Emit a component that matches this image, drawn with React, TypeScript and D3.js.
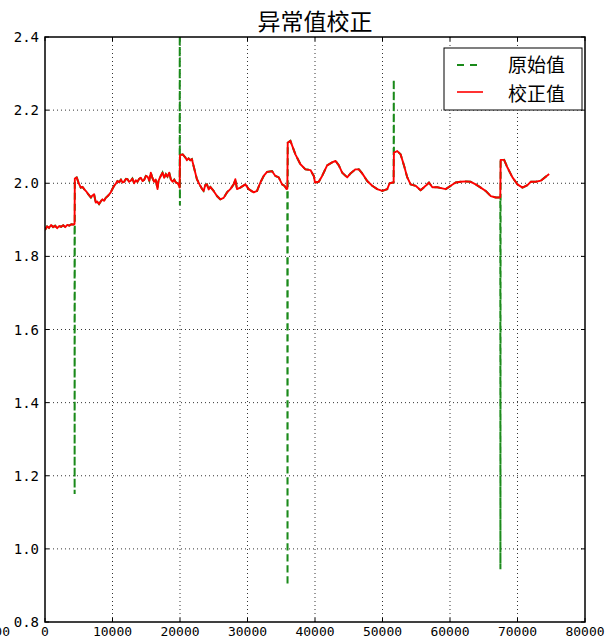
import React from "react";
import * as d3 from "d3";

const chartTitle = "异常值校正";
const legendLabels = ["原始值", "校正值"];
const xTicks = [0, 10000, 20000, 30000, 40000, 50000, 60000, 70000, 80000];
const yTicks = [0.8, 1.0, 1.2, 1.4, 1.6, 1.8, 2.0, 2.2, 2.4];

// corrected series [x, value]
const corrected: [number, number][] = [
  [0, 1.872], [300, 1.882], [600, 1.878], [900, 1.886], [1200, 1.880], [1500, 1.884],
  [1800, 1.877], [2100, 1.883], [2400, 1.881], [2700, 1.885], [3000, 1.880], [3300, 1.886],
  [3600, 1.884], [3900, 1.888], [4200, 1.887], [4380, 1.889],
  [4420, 2.013], [4700, 2.016], [5000, 2.000], [5300, 1.988], [5550, 1.990], [5800, 1.984],
  [6100, 1.978], [6400, 1.970], [6800, 1.961], [7000, 1.966], [7270, 1.970], [7520, 1.947],
  [7750, 1.950], [8010, 1.943], [8250, 1.950], [8510, 1.956], [8750, 1.952], [9000, 1.960],
  [9300, 1.965], [9740, 1.975], [10000, 1.985], [10240, 1.993], [10500, 1.999], [10730, 2.006],
  [11000, 2.003], [11250, 2.010], [11500, 2.002], [11720, 2.004], [12000, 2.012], [12220, 2.011],
  [12450, 2.004], [12710, 2.007], [12950, 2.013], [13200, 2.000], [13450, 2.008], [13700, 2.004],
  [13950, 2.012], [14200, 2.015], [14450, 2.006], [14690, 2.009], [14950, 2.020], [15190, 2.018],
  [15450, 2.007], [15680, 2.029], [15900, 2.015], [16170, 2.004], [16400, 2.010], [16670, 1.984],
  [16800, 2.005], [16920, 2.011], [17150, 2.020], [17410, 2.029], [17650, 2.015], [17900, 2.025],
  [18150, 2.018], [18400, 2.029], [18650, 2.010], [18900, 2.004], [19150, 2.010], [19390, 2.002],
  [19650, 2.000], [19900, 1.992], [19950, 1.988],
  [20000, 2.077], [20400, 2.079], [20776, 2.071], [21024, 2.063], [21270, 2.068], [21518, 2.063],
  [21765, 2.066], [22012, 2.047], [22507, 2.011], [23002, 1.993], [23250, 1.985], [23496, 1.979],
  [23750, 1.995], [23991, 1.997], [24250, 1.983], [24486, 1.990], [24980, 1.979], [25475, 1.965],
  [25970, 1.956], [26465, 1.960], [26960, 1.975], [27454, 1.984], [27949, 1.997], [28196, 2.011],
  [28444, 1.984], [28938, 1.988], [29680, 1.997], [30175, 1.984], [30917, 1.975], [31412, 1.979],
  [31906, 2.002], [32401, 2.020], [32896, 2.031], [33638, 2.033], [34132, 2.020], [34627, 2.016],
  [35122, 1.997], [35468, 1.993], [35800, 1.984], [35900, 1.985],
  [35960, 2.111], [36358, 2.116], [37100, 2.079], [37842, 2.052], [38584, 2.038], [39326, 2.036],
  [39820, 2.020], [40000, 2.002], [40563, 2.004], [41057, 2.020], [41800, 2.049], [42542, 2.057],
  [43036, 2.061], [43531, 2.049], [44026, 2.029], [44768, 2.016], [45262, 2.027], [46004, 2.038],
  [46499, 2.038], [46994, 2.027], [47736, 2.006], [48478, 1.993], [49220, 1.984], [49962, 1.979],
  [50704, 1.984], [51050, 2.000], [51545, 2.002], [51650, 2.002],
  [51690, 2.084], [52188, 2.088], [52682, 2.079], [53177, 2.049], [53672, 2.016], [54166, 1.997],
  [54908, 1.993], [55650, 1.981], [56392, 1.993], [56887, 2.002], [57382, 1.989], [58124, 1.989],
  [58866, 1.986], [59360, 1.984], [60102, 1.993], [60844, 2.002], [61586, 2.004], [62328, 2.005],
  [63070, 2.004], [63812, 1.997], [64554, 1.988], [65296, 1.979], [66038, 1.965], [66780, 1.961],
  [67275, 1.961], [67450, 1.962],
  [67500, 2.064], [68016, 2.064], [68511, 2.043], [69253, 2.016], [69995, 1.997], [70737, 1.988],
  [71479, 1.995], [71974, 2.004], [72716, 2.004], [73458, 2.007], [74052, 2.016], [74690, 2.025],
];

// anomalous raw points (only where raw differs from corrected)
const anomalies: [number, number][] = [
  [4390, 1.15],
  [19965, 2.45], [19985, 1.94],
  [35930, 0.90],
  [51670, 2.284],
  [67470, 0.944],
];

const W = 606, H = 639;
const L = 45, R = 585, T = 37, B = 622;

export default function App() {
  const x = d3.scaleLinear().domain([0, 80000]).range([L, R]);
  const y = d3.scaleLinear().domain([0.8, 2.4]).range([B, T]);
  const raw = [...corrected, ...anomalies].sort((a, b) => a[0] - b[0]);
  const line = d3.line<[number, number]>().x(d => x(d[0])).y(d => y(d[1]));
  const tickFont = "'DejaVu Sans Mono', monospace";
  const cjk = "'Noto Sans CJK SC', sans-serif";
  return (
    <svg width={W} height={H} style={{ position: "absolute", left: 0, top: 0, background: "#fff" }}>
      <defs>
        <clipPath id="plot"><rect x={L} y={T} width={R - L} height={B - T} /></clipPath>
      </defs>
      <rect x={0} y={0} width={W} height={H} fill="#fff" />
      {xTicks.slice(1, -1).map(t => (
        <line key={"gx" + t} x1={x(t)} x2={x(t)} y1={T} y2={B} stroke="#000" strokeWidth={0.8} strokeDasharray="1,3" />
      ))}
      {yTicks.slice(1, -1).map(t => (
        <line key={"gy" + t} x1={L} x2={R} y1={y(t)} y2={y(t)} stroke="#000" strokeWidth={0.8} strokeDasharray="1,3" />
      ))}
      {xTicks.map(t => (
        <g key={"tx" + t}>
          <line x1={x(t)} x2={x(t)} y1={B} y2={B - 4} stroke="#000" />
          <line x1={x(t)} x2={x(t)} y1={T} y2={T + 4} stroke="#000" />
        </g>
      ))}
      {yTicks.map(t => (
        <g key={"ty" + t}>
          <line x1={L} x2={L + 4} y1={y(t)} y2={y(t)} stroke="#000" />
          <line x1={R} x2={R - 4} y1={y(t)} y2={y(t)} stroke="#000" />
        </g>
      ))}
      <g clipPath="url(#plot)">
        <path d={line(raw) || ""} fill="none" stroke="#1a8a1a" strokeWidth={2} strokeDasharray="7,4" />
        <path d={line(corrected) || ""} fill="none" stroke="#ff0000" strokeWidth={1.9} strokeLinejoin="round" />
      </g>
      <rect x={L} y={T} width={R - L} height={B - T} fill="none" stroke="#000" strokeWidth={1.5} />
      {xTicks.map(t => (
        <text key={"lx" + t} x={x(t)} y={B + 14} textAnchor="middle" fontFamily={tickFont} fontSize={13} fill="#000">{t}</text>
      ))}
      {yTicks.map(t => (
        <text key={"ly" + t} x={L - 6} y={y(t) + 5} textAnchor="end" fontFamily={tickFont} fontSize={14} fill="#000">{t.toFixed(1)}</text>
      ))}
      <text x={10} y={B + 14} textAnchor="end" fontFamily={tickFont} fontSize={13} fill="#000">-10000</text>
      <text x={(L + R) / 2} y={30} textAnchor="middle" fontFamily={cjk} fontSize={23} fill="#000">{chartTitle}</text>
      <rect x={444} y={48} width={138} height={62} fill="#fff" stroke="#000" strokeWidth={1} />
      <line x1={457} x2={483} y1={65} y2={65} stroke="#1a8a1a" strokeWidth={2} strokeDasharray="7,6" />
      <text x={508} y={72} fontFamily={cjk} fontSize={19} fill="#000">{legendLabels[0]}</text>
      <line x1={457} x2={483} y1={92} y2={92} stroke="#ff0000" strokeWidth={1.6} />
      <text x={508} y={101} fontFamily={cjk} fontSize={19} fill="#000">{legendLabels[1]}</text>
    </svg>
  );
}
